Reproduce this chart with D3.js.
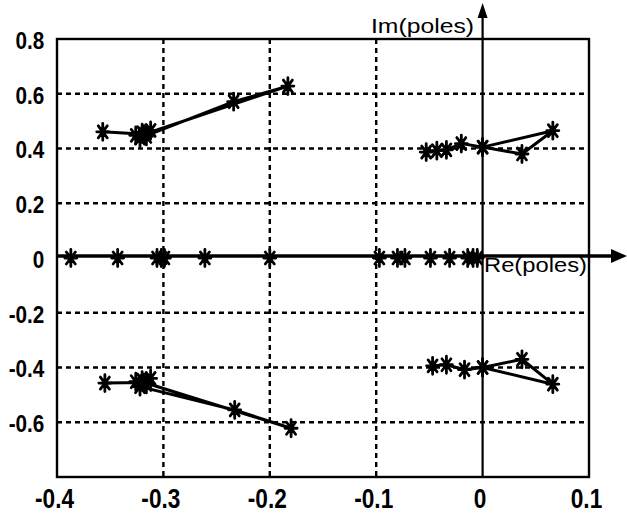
<!DOCTYPE html>
<html>
<head>
<meta charset="utf-8">
<script src="https://cdn.jsdelivr.net/npm/d3@7"></script>
<style>
  html, body { margin: 0; padding: 0; background: #fff; }
  svg { display: block; }
  text { font-family: "Liberation Sans", Arial, sans-serif; fill: #000; }
</style>
</head>
<body>
<svg id="chart" width="627" height="515"></svg>
<script>
// Pole locations (real, imaginary) traced as the parameter varies.
const upperLeftPoles = [[-0.357, 0.461], [-0.318, 0.452], [-0.183, 0.628], [-0.234, 0.571], [-0.322, 0.438], [-0.312, 0.466], [-0.326, 0.448], [-0.316, 0.444], [-0.320, 0.458]];
const lowerLeftPoles = [[-0.355, -0.457], [-0.318, -0.455], [-0.180, -0.622], [-0.233, -0.555], [-0.322, -0.470], [-0.312, -0.440], [-0.326, -0.452], [-0.316, -0.462], [-0.320, -0.446]];
const upperRightPoles = [[-0.053, 0.387], [-0.043, 0.392], [-0.034, 0.395], [-0.020, 0.418], [0.000, 0.405], [0.066, 0.465], [0.037, 0.380], [0.000, 0.405]];
const lowerRightPoles = [[-0.047, -0.394], [-0.034, -0.390], [-0.017, -0.408], [0.000, -0.400], [0.037, -0.370], [0.066, -0.461], [0.000, -0.400]];
// Real poles sitting on the real axis
const realPoles = [-0.387, -0.343, -0.306, -0.302, -0.299, -0.261, -0.200, -0.097, -0.080, -0.073, -0.049, -0.031, -0.014, -0.009, -0.005];

const xTicks = [-0.4, -0.3, -0.2, -0.1, 0, 0.1];
const yTicks = [0.8, 0.6, 0.4, 0.2, 0, -0.2, -0.4, -0.6];
const xGrid = [-0.3, -0.2, -0.1];
const yGrid = [0.6, 0.4, 0.2, -0.2, -0.4, -0.6];
const xLabel = "Re(poles)";
const yLabel = "Im(poles)";

const svg = d3.select("#chart");
const plotLeft = 57, plotRight = 589, plotTop = 39, plotBottom = 477;
const x = d3.scaleLinear().domain([-0.4, 0.1]).range([plotLeft, plotRight]);
const y = d3.scaleLinear().domain([-0.8, 0.8]).range([plotBottom, plotTop]);

// dashed grid
const grid = svg.append("g").attr("stroke", "#000").attr("stroke-width", 2.4).attr("stroke-dasharray", "5,4");
grid.selectAll("line.v").data(xGrid).join("line").attr("class", "v")
  .attr("x1", d => x(d)).attr("x2", d => x(d)).attr("y1", plotTop).attr("y2", plotBottom);
grid.selectAll("line.h").data(yGrid).join("line").attr("class", "h")
  .attr("x1", plotLeft).attr("x2", plotRight).attr("y1", d => y(d)).attr("y2", d => y(d));

// frame
svg.append("rect").attr("x", plotLeft).attr("y", plotTop)
  .attr("width", plotRight - plotLeft).attr("height", plotBottom - plotTop)
  .attr("fill", "none").attr("stroke", "#000").attr("stroke-width", 2.4);

// tick labels through d3 axes (narrow, tall digits)
const yAxis = svg.append("g").attr("transform", `translate(${plotLeft - 10},2)`)
  .call(d3.axisLeft(y).tickValues(yTicks).tickSize(0).tickFormat(d => String(d)));
yAxis.select(".domain").remove();
yAxis.selectAll("text").attr("font-size", 23).attr("font-weight", "bold")
  .attr("font-family", "'Liberation Sans', Arial, sans-serif").attr("fill", "#000")
  .attr("transform", "scale(0.9,1)");

const xAxis = svg.append("g").attr("transform", `translate(-3,${plotBottom + 9})`)
  .call(d3.axisBottom(x).tickValues(xTicks).tickSize(0).tickFormat(d => String(d)));
xAxis.select(".domain").remove();
xAxis.selectAll("text").attr("font-size", 27).attr("font-weight", "bold")
  .attr("font-family", "'Liberation Sans', Arial, sans-serif").attr("fill", "#000")
  .attr("transform", "scale(0.84,1)");

// real and imaginary axes with arrowheads
const x0 = x(0), y0 = y(0) - 2;
svg.append("line").attr("x1", plotLeft).attr("x2", 616).attr("y1", y0).attr("y2", y0)
  .attr("stroke", "#000").attr("stroke-width", 3.5);
svg.append("path").attr("d", `M627,${y0} L611,${y0 - 7} L611,${y0 + 7} Z`).attr("fill", "#000");
svg.append("line").attr("x1", x0).attr("x2", x0).attr("y1", plotBottom).attr("y2", 14)
  .attr("stroke", "#000").attr("stroke-width", 2.2);
svg.append("path").attr("d", `M${x0},3 L${x0 - 5},18 L${x0 + 5},18 Z`).attr("fill", "#000");

svg.append("text").attr("x", 484).attr("y", 272).attr("font-size", 20)
  .attr("textLength", 103).attr("lengthAdjust", "spacingAndGlyphs").text(xLabel);
svg.append("text").attr("x", 371).attr("y", 33).attr("font-size", 20)
  .attr("textLength", 103).attr("lengthAdjust", "spacingAndGlyphs").text(yLabel);

// pole trajectories
const line = d3.line().x(d => x(d[0])).y(d => y(d[1]));
const traces = [upperLeftPoles, lowerLeftPoles, upperRightPoles, lowerRightPoles];
svg.append("g").selectAll("path").data(traces).join("path")
  .attr("d", line).attr("fill", "none").attr("stroke", "#000").attr("stroke-width", 3)
  .attr("stroke-linejoin", "round");

// asterisk markers (slightly taller than wide)
const allPoles = traces.flat().concat(realPoles.map(r => [r, 0]));
const star = "M-6,0L6,0M0,-8.5L0,8.5M-4.5,-6L4.5,6M-4.5,6L4.5,-6";
svg.append("g").selectAll("path").data(allPoles).join("path")
  .attr("transform", d => `translate(${x(d[0])},${y(d[1])})`)
  .attr("d", star).attr("fill", "none").attr("stroke", "#000").attr("stroke-width", 2.8)
  .attr("stroke-linecap", "round");
</script>
</body>
</html>
